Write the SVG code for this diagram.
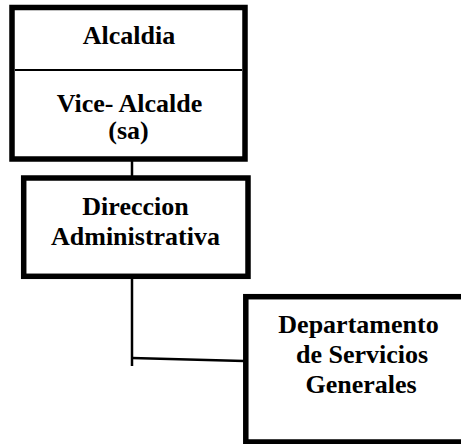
<svg xmlns="http://www.w3.org/2000/svg" width="461" height="444" viewBox="0 0 461 444">
<style>
.box{fill:#fff;stroke:#000;stroke-width:5.5}
.ln{stroke:#000;stroke-width:2.5;fill:none}
text{font-family:'Times New Roman',Times,'Liberation Serif',Tinos,'Nimbus Roman','Nimbus Roman No9 L',FreeSerif,'Noto Serif','DejaVu Serif',serif;font-weight:700;font-size:26px;text-anchor:middle;fill:#000}
</style>
<rect width="461" height="444" fill="#fff"/>
<g id="connectors">
<line class="ln" x1="132" y1="149.5" x2="132" y2="177"/>
<line class="ln" x1="132" y1="278" x2="132" y2="366"/>
<polyline class="ln" points="132,358 244,361"/>
</g>
<g id="alcaldia">
<rect class="box" x="12" y="7.5" width="233" height="151.5"/>
<line x1="15" y1="70" x2="242" y2="70" stroke="#000" stroke-width="2"/>
<text x="129" y="44">Alcaldia</text>
<text x="129.5" y="112">Vice- Alcalde</text>
<text x="128.5" y="139">(sa)</text>
</g>
<g id="direccion">
<rect class="box" x="23.7" y="178" width="224.3" height="98.3"/>
<text x="135.5" y="215">Direccion</text>
<text x="135.5" y="245">Administrativa</text>
</g>
<g id="departamento">
<rect class="box" x="245.8" y="296.7" width="222" height="145.3"/>
<text x="358.5" y="333.3">Departamento</text>
<text x="362" y="363.3">de Servicios</text>
<text x="361" y="393.3">Generales</text>
</g>
</svg>
